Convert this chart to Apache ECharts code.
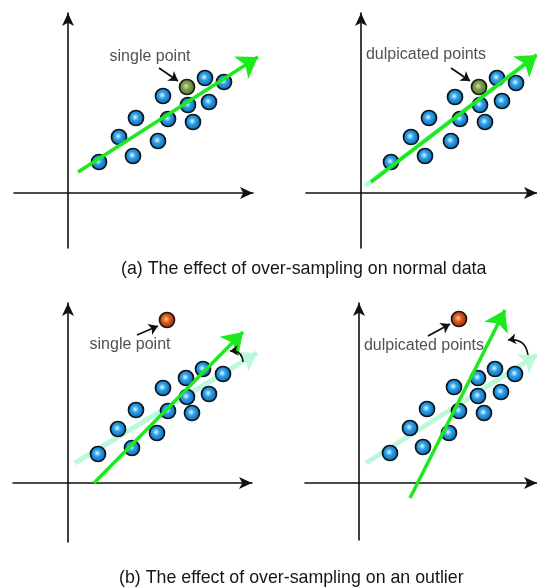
<!DOCTYPE html>
<html>
<head>
<meta charset="utf-8">
<script src="https://cdn.jsdelivr.net/npm/echarts@6/dist/echarts.min.js"></script>
<style>
  html, body { margin: 0; padding: 0; background: #fff; }
  #main { width: 537px; height: 587px; }
</style>
</head>
<body>
<div id="main"></div>
<script>
  // values, origin = where the axes cross
  var bluePtsA1 = [[3.1,3.1],[6.5,3.7],[5.1,5.6],[9.0,5.2],[6.8,7.5],[10.0,7.4],[12.5,7.1],[9.5,9.7],[12.0,8.8],[14.1,9.1],[13.7,11.5],[15.6,11.1]];
  var bluePtsA2 = [[3.0,3.1],[6.4,3.7],[5.0,5.6],[9.0,5.2],[6.8,7.5],[9.9,7.4],[12.4,7.1],[9.4,9.6],[11.9,8.8],[14.1,9.2],[13.6,11.5],[15.5,11.0]];
  var bluePtsB1 = [[3.0,2.9],[6.4,3.5],[5.0,5.4],[8.9,5.0],[6.8,7.3],[10.0,7.2],[12.4,7.0],[9.5,9.5],[11.9,8.6],[14.1,8.9],[11.8,10.5],[13.5,11.4],[15.5,10.9]];
  var bluePtsB2 = [[3.1,3.0],[6.4,3.6],[5.1,5.5],[9.0,5.0],[6.8,7.4],[10.0,7.2],[12.5,7.0],[9.5,9.6],[11.9,8.7],[14.2,9.1],[11.9,10.5],[13.6,11.4],[15.6,10.9]];
  var markedPts = [[11.9,10.6],[11.8,10.6],[9.9,16.3],[10.0,16.4]];
  var fitLines = [[[1.0,2.1],[19.0,13.6]], [[1.0,1.1],[17.6,13.8]], [[2.6,0],[17.5,15.1]], [[5.1,-1.5],[14.6,17.3]]];
  var oldLines = [null, [[0.4,0.7],[17.6,13.8]], [[0.7,2.0],[18.9,13.0]], [[0.7,2.0],[17.8,12.8]]];
  var pointerLines = [[[9.1,12.5],[11.0,11.2]], [[9.0,12.5],[10.9,11.2]], [[6.9,14.8],[9.0,15.7]], [[6.9,14.7],[9.1,15.9]]];
  var turnLines = [null, null, [[17.5,12.1],[16.2,13.2]], [[16.9,12.8],[14.9,14.3]]];
  var noteText = ['single point', 'dulpicated points', 'single point', 'dulpicated points'];
  var notePos = [[8.2,13.6],[6.5,13.8],[6.2,13.8],[6.5,13.7]];
  var captions = ['(a) The effect of over-sampling on normal data', '(b) The effect of over-sampling on an outlier'];

  var grids = [
    {left: 14, width: 239, top: 13, height: 235},
    {left: 306, width: 231, top: 13, height: 235},
    {left: 13, width: 239, top: 303, height: 239},
    {left: 305, width: 232, top: 303, height: 237}
  ];
  var xRange = [[-5.4,18.5],[-5.5,17.6],[-5.5,18.4],[-5.4,17.8]];
  var yRange = [[-5.5,18.0],[-5.5,18.0],[-5.9,18.0],[-5.7,18.0]];
  var bluePts = [bluePtsA1, bluePtsA2, bluePtsB1, bluePtsB2];

  var ball = function (inner, mid, outer) {
    return {type: 'radial', x: 0.45, y: 0.45, r: 0.6, colorStops: [
      {offset: 0, color: inner}, {offset: 0.35, color: mid}, {offset: 1, color: outer}]};
  };
  var markColors = [
    ball('#cfe6a8', '#7aa24c', '#4a6a28'), ball('#cfe6a8', '#7aa24c', '#4a6a28'),
    ball('#ffd08a', '#e05a20', '#8a1a08'), ball('#ffd08a', '#e05a20', '#8a1a08')
  ];

  var axisOpt = function (i, range) {
    return {
      type: 'value', gridIndex: i, min: range[0], max: range[1],
      axisLine: {show: true, onZero: true, symbol: ['none', 'arrow'], symbolSize: [9, 13],
        lineStyle: {color: '#111', width: 1.6}},
      axisTick: {show: false}, axisLabel: {show: false}, splitLine: {show: false}
    };
  };

  var xAxis = [], yAxis = [], series = [];
  for (var i = 0; i < 4; i++) {
    xAxis.push(axisOpt(i, xRange[i]));
    yAxis.push(axisOpt(i, yRange[i]));
    if (oldLines[i]) {
      series.push({type: 'lines', coordinateSystem: 'cartesian2d', xAxisIndex: i, yAxisIndex: i, clip: false,
        symbol: ['none', 'arrow'], symbolSize: 17, silent: true,
        lineStyle: {color: '#b6f7d6', width: 5, opacity: 0.9},
        data: [{coords: oldLines[i]}]});
    }
    series.push({type: 'scatter', xAxisIndex: i, yAxisIndex: i, symbolSize: 15, z: 3,
      itemStyle: {color: ball('#e6f7ff', '#2aa0ea', '#0a559c'), borderColor: '#0b1620', borderWidth: 1.7, opacity: 1},
      data: bluePts[i]});
    series.push({type: 'scatter', xAxisIndex: i, yAxisIndex: i, symbolSize: 15, z: 3,
      itemStyle: {color: markColors[i], borderColor: '#1a1a10', borderWidth: 1.7, opacity: 1},
      data: [markedPts[i]]});
    series.push({type: 'lines', coordinateSystem: 'cartesian2d', xAxisIndex: i, yAxisIndex: i, clip: false, z: 4,
      symbol: ['none', 'arrow'], symbolSize: 20, silent: true,
      lineStyle: {color: '#1ee81e', width: 3.5, opacity: 1},
      data: [{coords: fitLines[i]}]});
    series.push({type: 'lines', coordinateSystem: 'cartesian2d', xAxisIndex: i, yAxisIndex: i, clip: false, z: 4,
      symbol: ['none', 'arrow'], symbolSize: 9, silent: true,
      lineStyle: {color: '#111', width: 1.8, opacity: 1},
      data: [{coords: pointerLines[i]}]});
    if (turnLines[i]) {
      series.push({type: 'lines', coordinateSystem: 'cartesian2d', xAxisIndex: i, yAxisIndex: i, clip: false, z: 4,
        symbol: ['none', 'arrow'], symbolSize: 8, silent: true,
        lineStyle: {color: '#111', width: 1.6, opacity: 1, curveness: -0.5},
        data: [{coords: turnLines[i]}]});
    }
    series.push({type: 'scatter', xAxisIndex: i, yAxisIndex: i, symbolSize: 1, z: 5, silent: true,
      itemStyle: {color: 'rgba(0,0,0,0)'},
      label: {show: true, position: 'inside', formatter: noteText[i], color: '#262626',
        fontFamily: 'Liberation Sans', fontSize: 16},
      data: [notePos[i]]});
  }

  var chart = echarts.init(document.getElementById('main'));
  chart.setOption({
    animation: false,
    backgroundColor: '#fff',
    title: [
      {text: captions[0], left: 116, top: 255, textStyle: {fontFamily: 'Liberation Sans', fontSize: 17.8, fontWeight: 'normal', color: '#161616'}},
      {text: captions[1], left: 114, top: 564, textStyle: {fontFamily: 'Liberation Sans', fontSize: 17.8, fontWeight: 'normal', color: '#161616'}}
    ],
    grid: grids,
    xAxis: xAxis,
    yAxis: yAxis,
    series: series
  });
</script>
</body>
</html>
